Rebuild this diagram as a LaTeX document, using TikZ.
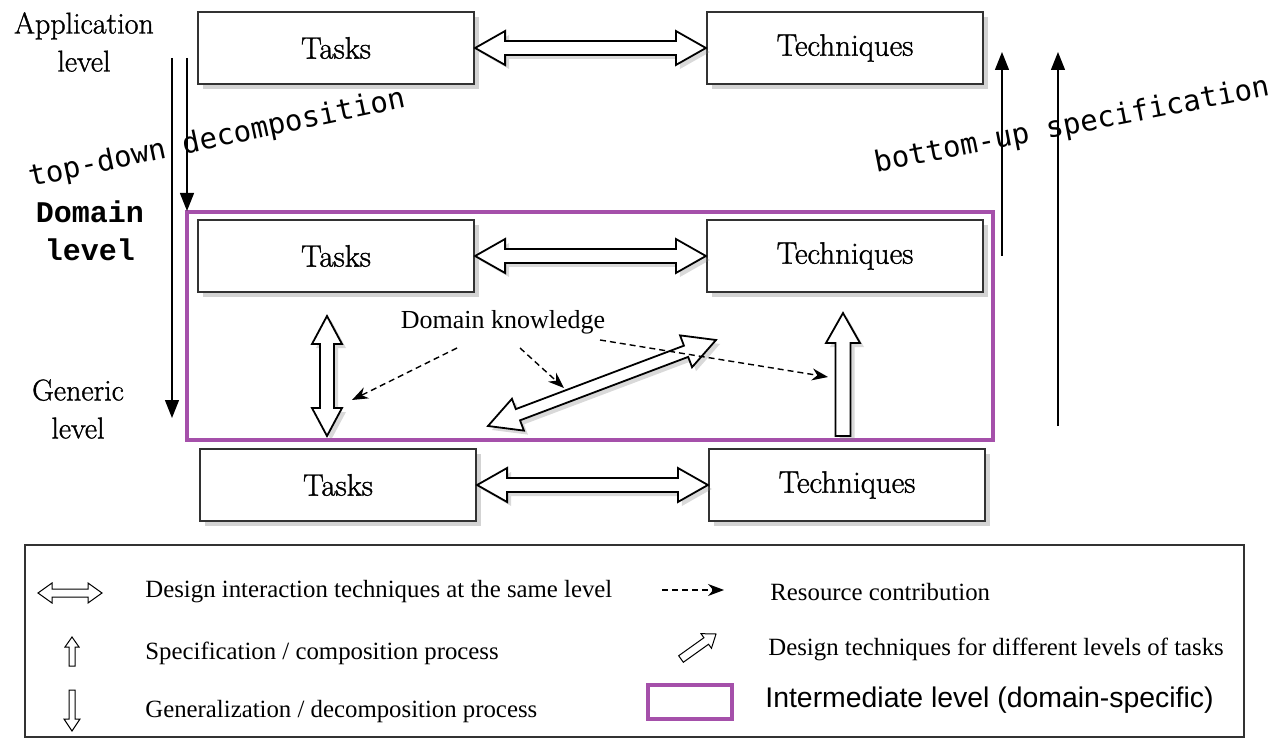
\documentclass[tikz,border=0pt]{standalone}
\usepackage{fontspec}
\newfontfamily\timesf{Liberation Serif}
\newfontfamily\arialf{Liberation Sans}
\newfontfamily\monof{DejaVu Sans Mono}
\newfontfamily\courf{Liberation Mono}
\newfontfamily\boxf[FakeBold=1.2]{Latin Modern Roman}
\usetikzlibrary{calc,arrows.meta,shadows}
\definecolor{purp}{RGB}{165,80,170}
\definecolor{edge}{RGB}{50,50,50}
\tikzset{
 box/.style={draw=edge, line width=1.1pt, fill=white, minimum width=138pt, minimum height=36pt, inner sep=0pt,
   font=\boxf\fontsize{15.5}{18}\selectfont, drop shadow={shadow xshift=2.5pt, shadow yshift=-2.5pt, opacity=0.35}},
 hollow/.style={draw=black, line width=0.9pt, fill=white, line join=miter,
   drop shadow={shadow xshift=2pt, shadow yshift=-2pt, opacity=0.3}},
 hollowthin/.style={draw=black, line width=0.5pt, fill=white},
 res/.style={dash pattern=on 3pt off 2pt, line width=0.7pt, -{Stealth[length=8pt,width=6pt]}},
 flow/.style={line width=0.7pt, -{Triangle[length=9pt,width=7pt]}},
 lvl/.style={font=\boxf\fontsize{15}{19}\selectfont, align=center, inner sep=0pt},
 leg/.style={anchor=west, font=\timesf\fontsize{12.4}{14}\selectfont, inner sep=0pt},
 slant/.style={font=\monof\fontsize{14.5}{16}\selectfont, inner sep=0pt},
}
% hollow double arrow: #1 from, #2 to, #3 head length, #4 head half width, #5 shaft half width, #6 style
\newcommand\hdbl[6]{%
  \coordinate (ha) at ($(#1)!#3!(#2)$);
  \coordinate (hb) at ($(#2)!#3!(#1)$);
  \draw[#6] (#1) -- ($(ha)!#4!90:(#2)$) -- ($(ha)!#5!90:(#2)$) -- ($(hb)!#5!-90:(#1)$)
    -- ($(hb)!#4!-90:(#1)$) -- (#2) -- ($(hb)!#4!90:(#1)$) -- ($(hb)!#5!90:(#1)$)
    -- ($(ha)!#5!-90:(#2)$) -- ($(ha)!#4!-90:(#2)$) -- cycle;
}
% hollow single arrow: #1 tail, #2 tip
\newcommand\hsgl[6]{%
  \coordinate (hb) at ($(#2)!#3!(#1)$);
  \draw[#6] ($(#1)!#5!90:(#2)$) -- ($(hb)!#5!-90:(#1)$) -- ($(hb)!#4!-90:(#1)$) -- (#2)
    -- ($(hb)!#4!90:(#1)$) -- ($(hb)!#5!90:(#1)$) -- ($(#1)!#5!-90:(#2)$) -- cycle;
}
\begin{document}
\begin{tikzpicture}[x=0.5pt,y=-0.5pt]
\useasboundingbox (0,0) rectangle (1276,738);

% intermediate (domain) frame
\node[draw=purp, line width=2pt, minimum width=403pt, minimum height=114pt, inner sep=0pt] (dom) at (590,326) {};

% boxes
\node[box] (t1) at (336,48) {Tasks};
\node[box] (q1) at (845,48) {Techniques};
\node[box] (t2) at (336,256) {Tasks};
\node[box] (q2) at (845,256) {Techniques};
\node[box] (t3) at (338,485) {Tasks};
\node[box] (q3) at (847,485) {Techniques};

% same-level interaction arrows
\hdbl{t1.east}{q1.west}{15pt}{8.5pt}{3.5pt}{hollow}
\hdbl{t2.east}{q2.west}{15pt}{8.5pt}{3.5pt}{hollow}
\hdbl{t3.east}{q3.west}{15pt}{8.5pt}{3.5pt}{hollow}

% arrows inside the domain frame
\coordinate (vA) at (327,316);
\coordinate (vB) at (327,436);
\hdbl{vA}{vB}{14pt}{7.5pt}{3.5pt}{hollow}
\coordinate (uA) at (843,436);
\coordinate (uB) at (843,313);
\hsgl{uA}{uB}{15pt}{8.5pt}{3.75pt}{hollow}
\coordinate (dA) at (488,426);
\coordinate (dB) at (716,340);
\hdbl{dA}{dB}{16pt}{8.5pt}{3pt}{hollow}

% domain knowledge
\node[font=\timesf\fontsize{13}{15}\selectfont, inner sep=0pt] (dk) at (503,322) {Domain knowledge};
\coordinate (k1) at (457,348);
\coordinate (k1e) at (352,400);
\coordinate (k2) at (520,348);
\coordinate (k2e) at (564,388);
\coordinate (k3) at (600,340);
\coordinate (k3e) at (828,377);
\draw[res] (k1) -- (k1e);
\draw[res] (k2) -- (k2e);
\draw[res] (k3) -- (k3e);

% level labels
\node[lvl] (app) at (84,42) {Application\\level};
\node[lvl, font=\courf\bfseries\fontsize{15}{19}\selectfont] (dl) at (90,231) {Domain\\level};
\node[lvl] (gl) at (78,409) {Generic\\level};

% process arrows
\coordinate (a1) at (172,58);
\coordinate (a1e) at (172,418);
\coordinate (a2) at (187,58);
\coordinate (a2e) at (187,211);
\draw[flow] (a1) -- (a1e);
\draw[flow] (a2) -- (a2e);
\coordinate (b1) at (1002,256);
\coordinate (b1e) at (1002,52);
\coordinate (b2) at (1058,426);
\coordinate (b2e) at (1058,52);
\draw[flow] (b1) -- (b1e);
\draw[flow] (b2) -- (b2e);

\node[slant, rotate=12] (td) at (217,139) {top-down decomposition};
\node[slant, rotate=11] (bu) at (1072,126) {bottom-up specification};

% legend
\node[draw=edge, line width=0.6pt, minimum width=609.5pt, minimum height=96pt, inner sep=0pt] (legend) at (634.5,641) {};
\coordinate (l1a) at (38,593);
\coordinate (l1b) at (102,593);
\hdbl{l1a}{l1b}{7pt}{5pt}{2pt}{hollowthin}
\node[leg] (lt1) at (145,592) {Design interaction techniques at the same level};
\coordinate (l2a) at (72,666);
\coordinate (l2b) at (72,637);
\hsgl{l2a}{l2b}{5pt}{3.5pt}{1.5pt}{hollowthin}
\node[leg] (lt2) at (145,653) {Specification / composition process};
\coordinate (l3a) at (72,690);
\coordinate (l3b) at (72,731);
\hsgl{l3a}{l3b}{6pt}{4pt}{1.5pt}{hollowthin}
\node[leg] (lt3) at (145,712) {Generalization / decomposition process};
\coordinate (l4a) at (662,590);
\coordinate (l4b) at (724,590);
\draw[res] (l4a) -- (l4b);
\node[leg] (lt4) at (770,592) {Resource contribution};
\coordinate (l5a) at (681,659);
\coordinate (l5b) at (716,634);
\hsgl{l5a}{l5b}{6pt}{4.5pt}{2pt}{hollowthin}
\node[leg] (lt5) at (768,649) {Design techniques for different levels of tasks};
\node[draw=purp, line width=2pt, minimum width=42pt, minimum height=17pt, inner sep=0pt] (l6) at (690,702) {};
\node[leg, font=\arialf\fontsize{14.2}{16}\selectfont] (lt6) at (765,700) {Intermediate level (domain-specific)};
\end{tikzpicture}
\end{document}
